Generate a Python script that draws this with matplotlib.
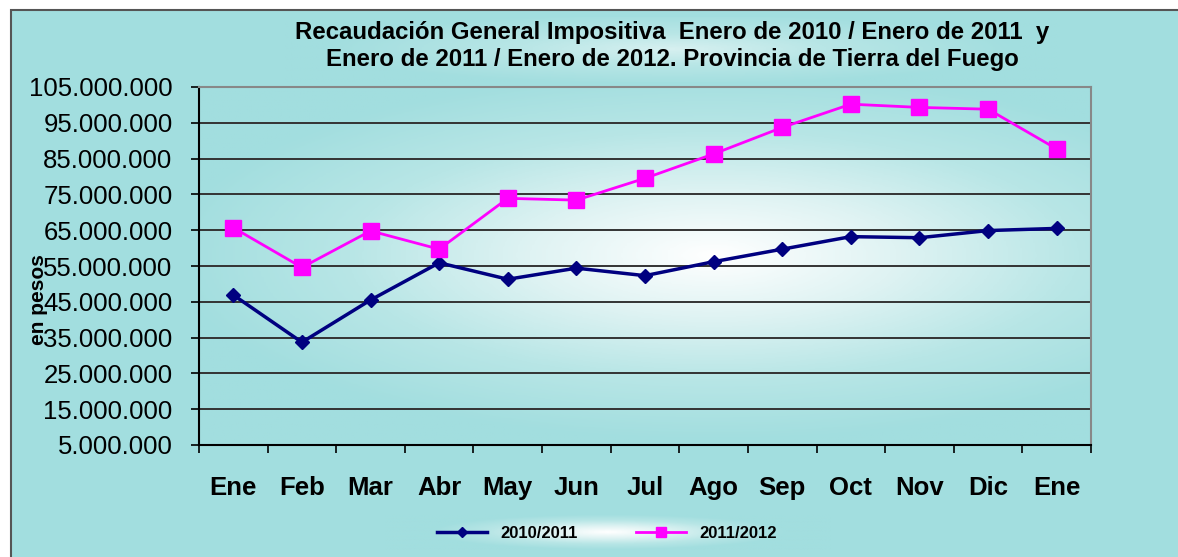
import numpy as np
import matplotlib.pyplot as plt
from matplotlib.patches import Rectangle
from matplotlib.colors import LinearSegmentedColormap

months = ['Ene', 'Feb', 'Mar', 'Abr', 'May', 'Jun', 'Jul', 'Ago', 'Sep', 'Oct', 'Nov', 'Dic', 'Ene']
serie_2010_2011 = [46.9, 33.7, 45.5, 55.9, 51.3, 54.4, 52.3, 56.2, 59.7, 63.2, 62.9, 64.9, 65.5]
serie_2011_2012 = [65.7, 54.6, 64.8, 59.7, 73.9, 73.4, 79.5, 86.3, 93.7, 100.2, 99.3, 98.8, 87.7]
labels = ['2010/2011', '2011/2012']
yticks = np.arange(5, 106, 10) * 1e6

plt.rcParams['font.family'] = ['Liberation Sans', 'DejaVu Sans']

teal = '#a2dedf'
cmap = LinearSegmentedColormap.from_list('bg', ['#ffffff', '#dff3f3', '#b8e6e6', teal])

fig = plt.figure(figsize=(11.78, 5.57), dpi=100, facecolor='white')

# outer frame (only left and top edges visible)
fig.patches.append(Rectangle((11 / 1178, -0.1), 1.1, 1.1 - 10 / 557, transform=fig.transFigure,
                             facecolor=teal, edgecolor='#555555', linewidth=1.5, zorder=-10))

# title box with soft gradient
tax = fig.add_axes([285 / 1178, 1 - 82 / 557, 775 / 1178, 65 / 557])
gx = np.linspace(-1, 1, 300)
gy = np.linspace(-1, 1, 60)
GX, GY = np.meshgrid(gx, gy)
tax.imshow(np.clip(np.sqrt((GX / 0.9) ** 2 + (GY / 1.1) ** 2), 0, 1) * 0.6 + 0.4,
           cmap=cmap, vmin=0, vmax=1, aspect='auto', extent=(0, 1, 0, 1))
tax.axis('off')
tax.text(0.5, 0.55, 'Recaudación General Impositiva  Enero de 2010 / Enero de 2011  y\n'
         'Enero de 2011 / Enero de 2012. Provincia de Tierra del Fuego',
         ha='center', va='center', fontsize=17.3, fontweight='bold', linespacing=1.2)

# main axes
ax = fig.add_axes([199 / 1178, 1 - 445 / 557, 892 / 1178, 358 / 557])
x = np.arange(len(months))
gx = np.linspace(-0.5, 12.5, 400)
gy = np.linspace(105, 5, 200)
GX, GY = np.meshgrid(gx, gy)
r = np.sqrt(((GX - 7.0) / 8.0) ** 2 + ((GY - 58) / 52) ** 2)
ax.imshow(np.clip(r, 0, 1), cmap=cmap, vmin=0, vmax=1, aspect='auto',
          extent=(-0.5, 12.5, 5e6, 105e6), zorder=0)

for yv in yticks[1:-1]:
    ax.axhline(yv, color='#333333', linewidth=1.4, zorder=1)

ax.plot(x, np.array(serie_2010_2011) * 1e6, color='#000080', linewidth=2.5, marker='D',
        markersize=7, label=labels[0], zorder=3)
ax.plot(x, np.array(serie_2011_2012) * 1e6, color='#ff00ff', linewidth=2, marker='s',
        markersize=11, label=labels[1], zorder=3)

ax.set_xlim(-0.5, 12.5)
ax.set_ylim(5e6, 105e6)
ax.set_yticks(yticks)
ax.set_yticklabels([f'{int(v):,}'.replace(',', '.') for v in yticks], fontsize=18.5)
ax.set_xticks(x)
ax.set_xticklabels(months, fontsize=18.5, fontweight='bold')
ax.set_xticks(np.arange(-0.5, 13, 1), minor=True)
ax.tick_params(axis='x', which='major', length=0, pad=22)
ax.tick_params(axis='x', which='minor', length=6, direction='out', width=1.2)
ax.tick_params(axis='y', length=6, direction='out', width=1.2, pad=13)
for s in ['left', 'bottom']:
    ax.spines[s].set_color('black')
    ax.spines[s].set_linewidth(1.5)
for s in ['top', 'right']:
    ax.spines[s].set_color('#888888')
    ax.spines[s].set_linewidth(1.5)

fig.text(38 / 1178, 1 - 300 / 557, 'en pesos', rotation=90, ha='center', va='center',
         fontsize=15, fontweight='bold', zorder=5)

# legend box
lax = fig.add_axes([385 / 1178, 1 - 550 / 557, 445 / 1178, 36 / 557])
gx = np.linspace(-1, 1, 300)
gy = np.linspace(-1, 1, 40)
GX, GY = np.meshgrid(gx, gy)
lax.imshow(np.clip(np.sqrt((GX / 0.8) ** 2 + (GY / 1.0) ** 2), 0, 1),
           cmap=cmap, vmin=0, vmax=1, aspect='auto', extent=(0, 1, 0, 1))
lax.axis('off')
handles, hl = ax.get_legend_handles_labels()
leg = fig.legend(handles, hl, loc='center', bbox_to_anchor=(607 / 1178, 1 - 533 / 557),
                 ncol=2, frameon=False, columnspacing=3.5,
                 handlelength=3, markerscale=0.7, prop={'weight': 'bold', 'size': 12})

fig.savefig('out.png', dpi=100)
